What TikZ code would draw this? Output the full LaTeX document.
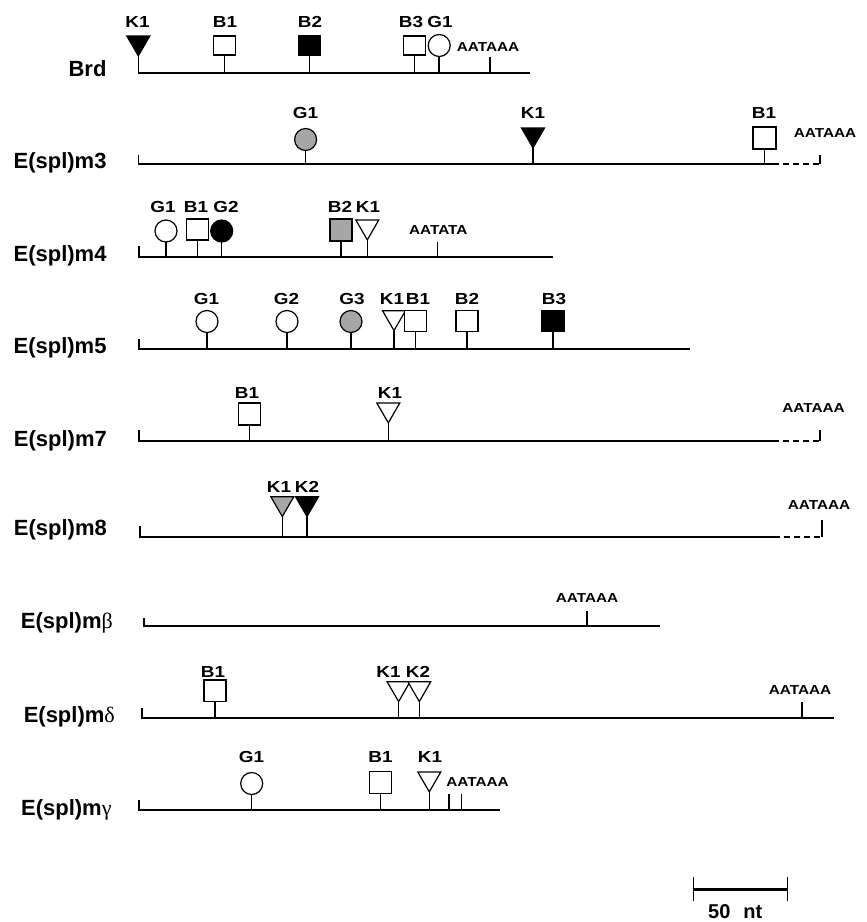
\documentclass[tikz,border=0pt]{standalone}
\usepackage{fontspec}
\setmainfont{Liberation Sans}
\newfontfamily\labfont[FakeStretch=1.18]{Liberation Sans}
\newfontfamily\greekfont{Liberation Serif}
\usetikzlibrary{shapes.geometric}
\definecolor{featgray}{RGB}{166,166,166}
\tikzset{
  rowline/.style={line width=1.8pt},
  stem/.style={line width=1.5pt},
  sqbox/.style={draw, line width=1.2pt, minimum width=22pt, minimum height=21pt, inner sep=0pt, outer sep=0pt},
  circbox/.style={draw, circle, line width=1.2pt, minimum size=22pt, inner sep=0pt, outer sep=0pt},
  tribox/.style={draw, regular polygon, regular polygon sides=3, shape border rotate=180, line width=1.2pt, minimum size=26.5pt, inner sep=0pt, outer sep=0pt},
  sitelab/.style={font=\labfont\bfseries\fontsize{16}{16}\selectfont, inner sep=0pt},
  polyalab/.style={font=\labfont\bfseries\fontsize{13}{13}\selectfont, inner sep=0pt},
  rowlab/.style={font=\bfseries\fontsize{22}{22}\selectfont, inner sep=0pt, anchor=base east},
  dashend/.style={line width=1.8pt, dash pattern=on 6pt off 4pt, dash phase=6pt},
}
\newcommand{\featsq}[5]{\node[sqbox,#4,anchor=north] (#1) at (#2,#3) {};\draw[stem] (#1.south) -- (#1.south |- #5);}
\newcommand{\featci}[5]{\node[circbox,#4,anchor=north] (#1) at (#2,#3) {};\draw[stem] (#1.south) -- (#1.south |- #5);}
\newcommand{\feattri}[5]{\node[tribox,#4,anchor=north] (#1) at (#2,#3) {};\draw[stem] (#1.south) -- (#1.south |- #5);}
\begin{document}
\begin{tikzpicture}[x=1pt,y=-1pt]
\useasboundingbox (0,0) rectangle (867,922);

% ---------------- Brd
\coordinate (r1s) at (138.3,73); \coordinate (r1e) at (530,73);
\draw[rowline] (r1s) -- (r1e);
\node[rowlab] (lab1) at (106.7,76) {Brd};
\feattri{brdK1}{138.3}{36}{fill=black}{r1s}
\featsq{brdB1}{224.3}{36}{fill=white,minimum height=19pt}{r1s}
\featsq{brdB2}{309.7}{36}{fill=black,minimum height=19pt}{r1s}
\featsq{brdB3}{414.7}{36}{fill=white,minimum height=19pt}{r1s}
\featci{brdG1}{439.2}{34.5}{fill=white}{r1s}
\coordinate (r1p) at (490,57); \draw[stem] (r1p) -- (r1p |- r1s);
\node[polyalab] (brdA) at (488,46.7) {AATAAA};
\node[sitelab] (brdK1l) at (137.5,22) {K1};
\node[sitelab] (brdB1l) at (225,22) {B1};
\node[sitelab] (brdB2l) at (310,22) {B2};
\node[sitelab] (brdB3l) at (411,22) {B3};
\node[sitelab] (brdG1l) at (440,22) {G1};

% ---------------- E(spl)m3
\coordinate (r2t) at (138.5,155); \coordinate (r2s) at (138.5,164);
\coordinate (r2m) at (779,164); \coordinate (r2e) at (820,164); \coordinate (r2et) at (820,155);
\draw[rowline] (r2t) -- (r2s) -- (r2m);
\draw[dashend] (r2m) -- (r2e);
\draw[rowline] (r2e) -- (r2et);
\node[rowlab] (lab2) at (106.7,168) {E(spl)m3};
\featci{m3G1}{305.6}{128.5}{fill=featgray}{r2s}
\feattri{m3K1}{533}{128}{fill=black}{r2s}
\featsq{m3B1}{764.5}{127}{fill=white,minimum width=23pt,minimum height=22pt}{r2s}
\node[polyalab] (m3A) at (825,133) {AATAAA};
\node[sitelab] (m3G1l) at (305.5,113) {G1};
\node[sitelab] (m3K1l) at (533,113) {K1};
\node[sitelab] (m3B1l) at (764,113) {B1};

% ---------------- E(spl)m4
\coordinate (r3t) at (139,246); \coordinate (r3s) at (139,257); \coordinate (r3e) at (553,257);
\draw[rowline] (r3t) -- (r3s) -- (r3e);
\node[rowlab] (lab3) at (106.7,261) {E(spl)m4};
\featci{m4G1}{166}{220}{fill=white}{r3s}
\featsq{m4B1}{197.7}{219}{fill=white}{r3s}
\featci{m4G2}{221.7}{220}{fill=black}{r3s}
\featsq{m4B2}{341}{219}{fill=featgray,minimum height=22pt}{r3s}
\feattri{m4K1}{367.3}{220}{fill=white}{r3s}
\coordinate (r3p) at (437.7,242); \draw[stem] (r3p) -- (r3p |- r3s);
\node[polyalab] (m4A) at (438.3,230) {AATATA};
\node[sitelab] (m4G1l) at (163,207) {G1};
\node[sitelab] (m4B1l) at (196,207) {B1};
\node[sitelab] (m4G2l) at (226,207) {G2};
\node[sitelab] (m4B2l) at (340,207) {B2};
\node[sitelab] (m4K1l) at (368,207) {K1};

% ---------------- E(spl)m5
\coordinate (r4t) at (139,339); \coordinate (r4s) at (139,349); \coordinate (r4e) at (690,349);
\draw[rowline] (r4t) -- (r4s) -- (r4e);
\node[rowlab] (lab4) at (106.7,353) {E(spl)m5};
\featci{m5G1}{207}{310.5}{fill=white}{r4s}
\featci{m5G2}{287}{310.5}{fill=white}{r4s}
\featci{m5G3}{351}{310.5}{fill=featgray}{r4s}
\feattri{m5K1}{394}{310.7}{fill=white}{r4s}
\featsq{m5B1}{415.3}{310.7}{fill=white}{r4s}
\featsq{m5B2}{467}{310.7}{fill=white}{r4s}
\featsq{m5B3}{553}{310.7}{fill=black}{r4s}
\node[sitelab] (m5G1l) at (206.5,299) {G1};
\node[sitelab] (m5G2l) at (286.5,299) {G2};
\node[sitelab] (m5G3l) at (352,299) {G3};
\node[sitelab] (m5K1l) at (392,299) {K1};
\node[sitelab] (m5B1l) at (418,299) {B1};
\node[sitelab] (m5B2l) at (467,299) {B2};
\node[sitelab] (m5B3l) at (554,299) {B3};

% ---------------- E(spl)m7
\coordinate (r5t) at (139,430); \coordinate (r5s) at (139,441);
\coordinate (r5m) at (779,441); \coordinate (r5e) at (820,441); \coordinate (r5et) at (820,430);
\draw[rowline] (r5t) -- (r5s) -- (r5m);
\draw[dashend] (r5m) -- (r5e);
\draw[rowline] (r5e) -- (r5et);
\node[rowlab] (lab5) at (107,446) {E(spl)m7};
\featsq{m7B1}{249.7}{403}{fill=white,minimum height=22pt}{r5s}
\feattri{m7K1}{388.3}{403}{fill=white}{r5s}
\node[polyalab] (m7A) at (813.5,408) {AATAAA};
\node[sitelab] (m7B1l) at (247,393) {B1};
\node[sitelab] (m7K1l) at (390,393) {K1};

% ---------------- E(spl)m8
\coordinate (r6t) at (140,526); \coordinate (r6s) at (140,537);
\coordinate (r6m) at (780,537); \coordinate (r6e) at (822,537); \coordinate (r6et) at (822,520);
\draw[rowline] (r6t) -- (r6s) -- (r6m);
\draw[dashend] (r6m) -- (r6e);
\draw[rowline] (r6e) -- (r6et);
\node[rowlab] (lab6) at (107,535) {E(spl)m8};
\feattri{m8K1}{282.3}{496.7}{fill=featgray}{r6s}
\feattri{m8K2}{307}{496.7}{fill=black}{r6s}
\node[polyalab] (m8A) at (819,505) {AATAAA};
\node[sitelab] (m8K1l) at (279,487) {K1};
\node[sitelab] (m8K2l) at (307,487) {K2};

% ---------------- E(spl)m beta
\coordinate (r7t) at (144,618); \coordinate (r7s) at (144,626); \coordinate (r7e) at (660,626);
\draw[rowline] (r7t) -- (r7s) -- (r7e);
\node[rowlab] (lab7) at (113,628) {E(spl)m{\mdseries\greekfont β}};
\coordinate (r7p) at (587,611); \draw[stem] (r7p) -- (r7p |- r7s);
\node[polyalab] (mbA) at (587,598) {AATAAA};

% ---------------- E(spl)m delta
\coordinate (r8t) at (142,708); \coordinate (r8s) at (142,718); \coordinate (r8e) at (834,718);
\draw[rowline] (r8t) -- (r8s) -- (r8e);
\node[rowlab] (lab8) at (115,722) {E(spl)m{\mdseries\greekfont δ}};
\featsq{mdB1}{215}{680}{fill=white,minimum height=21.7pt}{r8s}
\feattri{mdK1}{398.6}{681.7}{fill=white}{r8s}
\feattri{mdK2}{419.3}{681.7}{fill=white}{r8s}
\coordinate (r8p) at (802,702); \draw[stem] (r8p) -- (r8p |- r8s);
\node[polyalab] (mdA) at (800,690) {AATAAA};
\node[sitelab] (mdB1l) at (213,672) {B1};
\node[sitelab] (mdK1l) at (388.5,672) {K1};
\node[sitelab] (mdK2l) at (418,672) {K2};

% ---------------- E(spl)m gamma
\coordinate (r9t) at (139,799.5); \coordinate (r9s) at (139,810); \coordinate (r9e) at (500,810);
\draw[rowline] (r9t) -- (r9s) -- (r9e);
\node[rowlab] (lab9) at (111.7,815) {E(spl)m{\mdseries\greekfont γ}};
\featci{mgG1}{251.7}{772.5}{fill=white}{r9s}
\featsq{mgB1}{380.7}{771.7}{fill=white,minimum height=21.6pt}{r9s}
\feattri{mgK1}{429.3}{772}{fill=white}{r9s}
\coordinate (r9p) at (449,794); \draw[stem] (r9p) -- (r9p |- r9s);
\coordinate (r9q) at (461.7,794); \draw[stem] (r9q) -- (r9q |- r9s);
\node[polyalab] (mgA) at (477.5,781.7) {AATAAA};
\node[sitelab] (mgG1l) at (251.5,757) {G1};
\node[sitelab] (mgB1l) at (380.5,757) {B1};
\node[sitelab] (mgK1l) at (430,757) {K1};

% ---------------- scale bar
\coordinate (sb1) at (693.3,889.3); \coordinate (sb2) at (787.3,889.3);
\draw[line width=2.4pt] (sb1) -- (sb2);
\draw[line width=1.6pt] ([yshift=-12pt]sb1) -- ([yshift=12pt]sb1);
\draw[line width=1.6pt] ([yshift=-12pt]sb2) -- ([yshift=12pt]sb2);
\node[font=\bfseries\fontsize{20}{20}\selectfont, inner sep=0pt, anchor=base west] (sblab) at (708,918) {50\hspace{13pt}nt};
\end{tikzpicture}
\end{document}
